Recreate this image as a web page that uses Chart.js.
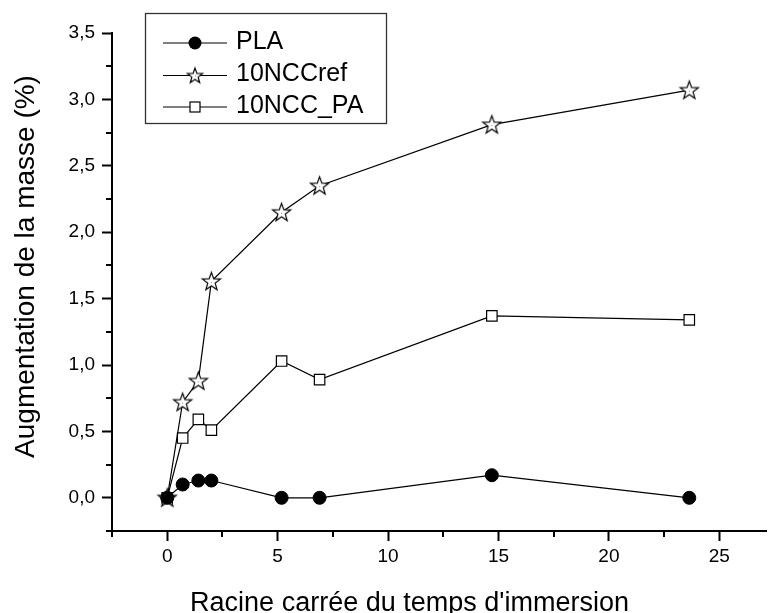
<!DOCTYPE html>
<html>
<head>
<meta charset="utf-8">
<script src="https://cdn.jsdelivr.net/npm/chart.js@4/dist/chart.umd.min.js"></script>
<style>
html,body{margin:0;padding:0;background:#fff;overflow:hidden;}
#wrap{width:777px;height:613px;}
</style>
</head>
<body>
<div id="wrap"><canvas id="c" width="777" height="613"></canvas></div>
<script>
// ---- data ----
const xValues   = [0, 0.70, 1.41, 2.0, 5.18, 6.90, 14.70, 23.64];
const plaValues = [0, 0.10, 0.13, 0.13, 0.00, 0.00, 0.17, 0.00];
const refValues = [0, 0.72, 0.88, 1.63, 2.15, 2.35, 2.81, 3.07];
const paValues  = [0, 0.45, 0.59, 0.51, 1.03, 0.89, 1.37, 1.34];
const seriesNames = ['PLA', '10NCCref', '10NCC_PA'];
const xTickValues = [0, 5, 10, 15, 20, 25];
const xMinorTicks = [-2.5, 2.5, 7.5, 12.5, 17.5, 22.5];
const yTickValues = [0, 0.5, 1.0, 1.5, 2.0, 2.5, 3.0, 3.5];
const yMinorTicks = [-0.25, 0.25, 0.75, 1.25, 1.75, 2.25, 2.75, 3.25];
const xTitle = 'Racine carrée du temps d\'immersion';
const yTitle = 'Augmentation de la masse (%)';

const FONT = '"Liberation Sans", Arial, sans-serif';

function makeStar(R, r) {
  const s = Math.ceil(2 * R + 4);
  const c = document.createElement('canvas');
  c.width = s; c.height = s;
  const g = c.getContext('2d');
  const cx = s / 2, cy = s / 2 + 0.6;
  g.beginPath();
  for (let i = 0; i < 10; i++) {
    const a = -Math.PI / 2 + i * Math.PI / 5;
    const rr = i % 2 === 0 ? R : r;
    const px = cx + rr * Math.cos(a), py = cy + rr * Math.sin(a);
    if (i === 0) g.moveTo(px, py); else g.lineTo(px, py);
  }
  g.closePath();
  g.fillStyle = '#fff';
  g.fill();
  g.lineWidth = 1.2;
  g.strokeStyle = '#000';
  g.stroke();
  g.fillStyle = '#888';
  g.fillRect(Math.floor(cx), Math.floor(cy), 1, 1);
  return c;
}
const starImg = makeStar(9.5, 3.9);
const starSmall = makeStar(8, 3.3);

function pts(ys) { return xValues.map((x, i) => ({x: x, y: ys[i]})); }

const minorTicksPlugin = {
  id: 'minorTicks',
  afterDraw(chart) {
    const ctx = chart.ctx, xs = chart.scales.x, ys = chart.scales.y;
    ctx.save();
    ctx.strokeStyle = '#000';
    ctx.lineWidth = 2;
    ctx.beginPath();
    xMinorTicks.forEach(v => {
      const px = Math.round(xs.getPixelForValue(v));
      ctx.moveTo(px, xs.top); ctx.lineTo(px, xs.top + 6);
    });
    yMinorTicks.forEach(v => {
      const py = Math.round(ys.getPixelForValue(v));
      ctx.moveTo(ys.right - 6, py); ctx.lineTo(ys.right, py);
    });
    ctx.stroke();
    ctx.restore();
  }
};

const titlesPlugin = {
  id: 'titles',
  afterDraw(chart) {
    const ctx = chart.ctx;
    ctx.save();
    ctx.fillStyle = '#000';
    ctx.font = '27px ' + FONT;
    ctx.textAlign = 'center';
    ctx.textBaseline = 'alphabetic';
    ctx.fillText(xTitle, 409.5, 611);
    ctx.translate(34, 266.5);
    ctx.rotate(-Math.PI / 2);
    ctx.font = '28px ' + FONT;
    ctx.fillText(yTitle, 0, 0);
    ctx.restore();
  }
};

const legendPlugin = {
  id: 'customLegend',
  afterDraw(chart) {
    const ctx = chart.ctx;
    const L = 145.5, T = 13.5, R = 386.5, B = 123.5;
    ctx.save();
    ctx.fillStyle = '#fff';
    ctx.fillRect(L, T, R - L, B - T);
    ctx.strokeStyle = '#333';
    ctx.lineWidth = 1.3;
    ctx.strokeRect(L, T, R - L, B - T);
    const rows = [43, 75.5, 107];
    chart.data.datasets.forEach((ds, i) => {
      const y = rows[i];
      ctx.strokeStyle = '#000';
      ctx.lineWidth = 1;
      ctx.beginPath();
      ctx.moveTo(163, y); ctx.lineTo(227, y);
      ctx.stroke();
      const mx = 195;
      if (i === 0) {
        ctx.fillStyle = '#000';
        ctx.beginPath(); ctx.arc(mx, y, 6.5, 0, Math.PI * 2); ctx.fill();
      } else if (i === 1) {
        ctx.drawImage(starSmall, mx - starSmall.width / 2, y - starSmall.height / 2);
      } else {
        ctx.fillStyle = '#fff';
        ctx.fillRect(mx - 5, y - 5, 10, 10);
        ctx.strokeStyle = '#000';
        ctx.lineWidth = 1.2;
        ctx.strokeRect(mx - 5, y - 5, 10, 10);
      }
      ctx.fillStyle = '#000';
      ctx.font = '25px ' + FONT;
      ctx.textAlign = 'left';
      ctx.textBaseline = 'middle';
      ctx.fillText(ds.label, 236, y - 1);
    });
    ctx.restore();
  }
};

new Chart(document.getElementById('c'), {
  type: 'scatter',
  data: {
    datasets: [
      {label: seriesNames[0], data: pts(plaValues), showLine: true, borderColor: '#000', borderWidth: 1.2,
       pointStyle: 'circle', pointRadius: 6.5, pointBackgroundColor: '#000', pointBorderColor: '#000', pointBorderWidth: 1},
      {label: seriesNames[1], data: pts(refValues), showLine: true, borderColor: '#000', borderWidth: 1.2,
       pointStyle: starImg, pointRadius: 9},
      {label: seriesNames[2], data: pts(paValues), showLine: true, borderColor: '#000', borderWidth: 1.2,
       pointStyle: 'rect', pointRadius: 7.4, pointBackgroundColor: '#fff', pointBorderColor: '#000', pointBorderWidth: 1.2}
    ]
  },
  options: {
    responsive: false,
    animation: false,
    devicePixelRatio: 1,
    layout: {padding: {top: 33, right: 0, left: 0, bottom: 0}},
    plugins: {legend: {display: false}, tooltip: {enabled: false}},
    scales: {
      x: {
        type: 'linear', min: -2.5, max: 27.15,
        afterBuildTicks: s => { s.ticks = xTickValues.map(v => ({value: v})); },
        afterFit: s => { s.height = 82; },
        border: {display: true, color: '#000', width: 2},
        grid: {drawOnChartArea: false, drawTicks: true, tickLength: 10, tickColor: '#000', tickWidth: 2},
        ticks: {color: '#000', font: {family: FONT, size: 19}, padding: 4, maxRotation: 0,
                callback: v => String(v)},
        title: {display: false}
      },
      y: {
        type: 'linear', min: -0.25, max: 3.5,
        afterBuildTicks: s => { s.ticks = yTickValues.map(v => ({value: v})); },
        afterFit: s => { s.width = 112; },
        border: {display: true, color: '#000', width: 2},
        grid: {drawOnChartArea: false, drawTicks: true, tickLength: 10, tickColor: '#000', tickWidth: 2},
        ticks: {color: '#000', font: {family: FONT, size: 19}, padding: 7,
                callback: v => Number(v).toFixed(1).replace('.', ',')},
        title: {display: false}
      }
    }
  },
  plugins: [minorTicksPlugin, titlesPlugin, legendPlugin]
});
</script>
</body>
</html>
